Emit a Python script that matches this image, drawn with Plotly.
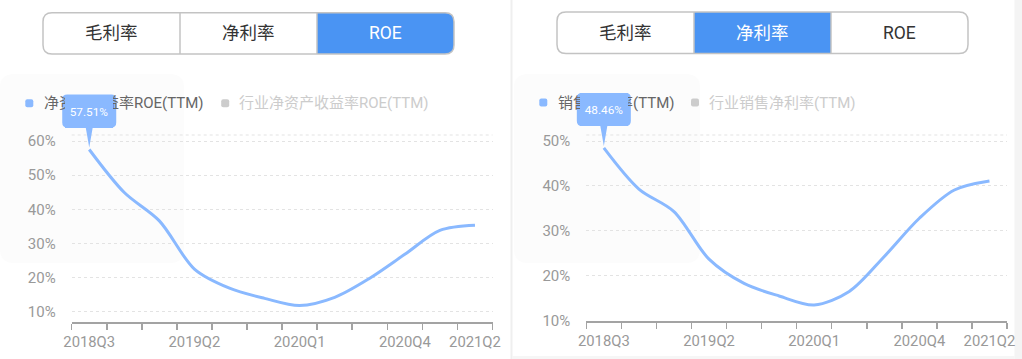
import plotly.graph_objects as go

W, H = 1022, 359

# ---------------- data ----------------
quarters = ['2018Q3', '2018Q4', '2019Q1', '2019Q2', '2019Q3', '2019Q4',
            '2020Q1', '2020Q2', '2020Q3', '2020Q4', '2021Q1', '2021Q2']
shown_labels = ['2018Q3', '2019Q2', '2020Q1', '2020Q4', '2021Q2']
roe_ttm = [57.51, 44.9, 36.6, 22.5, 16.9, 13.9, 11.8, 14.2, 19.8, 26.8, 33.8, 35.3]
net_margin_ttm = [48.46, 39.3, 34.3, 23.7, 18.3, 15.5, 13.5, 16.5, 24.3, 32.8, 39.1, 41.1]
left_yticks = [10, 20, 30, 40, 50, 60]
right_yticks = [10, 20, 30, 40, 50]
tabs = ['毛利率', '净利率', 'ROE']
left_legend = ['净资产收益率ROE(TTM)', '行业净资产收益率ROE(TTM)']
right_legend = ['销售净利率(TTM)', '行业销售净利率(TTM)']

# ---------------- style ----------------
FONT = "Roboto, 'Noto Sans CJK SC', sans-serif"
LINE = '#8ab9ff'
BLUE = '#4a94f3'
GRID = '#e3e3e3'
AXIS = '#a3a3a3'
LABEL = '#999999'

# panel geometry (pixels)
LEFT = dict(x0=71.7, x1=492.5, yb=322.0, yt=135.0, r=(6.98, 61.76))
RIGHT = dict(x0=586.3, x1=1007.0, yb=321.0, yt=135.0, r=(9.93, 51.34))


def px(x):
    return x / W


def py(y):
    return 1 - y / H


def data_to_px(panel, i, v):
    n = len(quarters)
    x = panel['x0'] + (i + 0.5) * (panel['x1'] - panel['x0']) / n
    r0, r1 = panel['r']
    y = panel['yb'] - (v - r0) / (r1 - r0) * (panel['yb'] - panel['yt'])
    return x, y


def rr_path(x0, y0, x1, y1, r, corners=(True, True, True, True)):
    tl, tr, br, bl = corners
    rtl = r if tl else 0
    rtr = r if tr else 0
    rbr = r if br else 0
    rbl = r if bl else 0
    s = f"M {px(x0 + rtl)} {py(y0)} L {px(x1 - rtr)} {py(y0)} "
    if rtr:
        s += f"Q {px(x1)} {py(y0)} {px(x1)} {py(y0 + rtr)} "
    s += f"L {px(x1)} {py(y1 - rbr)} "
    if rbr:
        s += f"Q {px(x1)} {py(y1)} {px(x1 - rbr)} {py(y1)} "
    s += f"L {px(x0 + rbl)} {py(y1)} "
    if rbl:
        s += f"Q {px(x0)} {py(y1)} {px(x0)} {py(y1 - rbl)} "
    s += f"L {px(x0)} {py(y0 + rtl)} "
    if rtl:
        s += f"Q {px(x0)} {py(y0)} {px(x0 + rtl)} {py(y0)} "
    s += "Z"
    return s


fig = go.Figure()

fig.add_trace(go.Scatter(x=quarters, y=roe_ttm, mode='lines',
                         line=dict(color=LINE, width=3, shape='spline', smoothing=0.9),
                         xaxis='x', yaxis='y', hoverinfo='skip', showlegend=False))
fig.add_trace(go.Scatter(x=quarters, y=net_margin_ttm, mode='lines',
                         line=dict(color=LINE, width=3, shape='spline', smoothing=0.9),
                         xaxis='x2', yaxis='y2', hoverinfo='skip', showlegend=False))

ticktext = [q if q in shown_labels else '' for q in quarters]

xaxis_common = dict(type='category', tickmode='array', tickvals=quarters, ticktext=ticktext,
                    range=[-0.5, len(quarters) - 0.5], automargin=False,
                    tickson='boundaries', ticks='outside', ticklen=6, tickwidth=1.5,
                    tickcolor=AXIS, showline=True, linecolor=AXIS, linewidth=1.5,
                    ticklabelstandoff=6,
                    showgrid=False, zeroline=False, tickangle=0, fixedrange=True,
                    tickfont=dict(family=FONT, size=14.8, color=LABEL))
yaxis_common = dict(tickmode='array', ticks='outside', ticklen=12, automargin=False,
                    tickcolor='rgba(0,0,0,0)', showline=False, zeroline=False,
                    showgrid=True, gridcolor=GRID, gridwidth=1, griddash='3px,3px',
                    fixedrange=True, tickfont=dict(family=FONT, size=15, color=LABEL))

fig.update_layout(
    template='none',
    width=W, height=H, autosize=False,
    margin=dict(l=0, r=0, t=0, b=0, pad=0, autoexpand=False),
    paper_bgcolor='white', plot_bgcolor='rgba(0,0,0,0)',
    showlegend=False,
    xaxis=dict(domain=[px(LEFT['x0']), px(LEFT['x1'])], anchor='y', **xaxis_common),
    yaxis=dict(domain=[py(LEFT['yb']), py(LEFT['yt'])], anchor='x', range=list(LEFT['r']),
               tickvals=left_yticks, ticktext=[f"{v}%" for v in left_yticks], **yaxis_common),
    xaxis2=dict(domain=[px(RIGHT['x0']), px(RIGHT['x1'])], anchor='y2', **xaxis_common),
    yaxis2=dict(domain=[py(RIGHT['yb']), py(RIGHT['yt'])], anchor='x2', range=list(RIGHT['r']),
                tickvals=right_yticks, ticktext=[f"{v}%" for v in right_yticks], **yaxis_common),
)

shapes = []
annotations = []

# background bits
shapes.append(dict(type='rect', xref='paper', yref='paper', x0=px(510.5), x1=px(512.5),
                   y0=0, y1=1, fillcolor='#efefef', line_width=0, layer='below'))
shapes.append(dict(type='rect', xref='paper', yref='paper', x0=px(1014.5), x1=1,
                   y0=0, y1=1, fillcolor='#f4f4f4', line_width=0, layer='below'))
shapes.append(dict(type='rect', xref='paper', yref='paper', x0=px(512.5), x1=px(1014.5),
                   y0=0, y1=py(356), fillcolor='#f6f6f6', line_width=0, layer='below'))
for (a, b) in [(0, 184), (514, 700)]:
    shapes.append(dict(type='path', xref='paper', yref='paper',
                       path=rr_path(a, 74, b, 263, 14), fillcolor='#fcfcfc',
                       line_width=0, layer='below'))

# top dashed grid border lines
for p in (LEFT, RIGHT):
    shapes.append(dict(type='line', xref='paper', yref='paper', x0=px(p['x0']), x1=px(p['x1']),
                       y0=py(p['yt']), y1=py(p['yt']),
                       line=dict(color=GRID, width=1, dash='3px,3px'), layer='below'))


# tab buttons
def tab_group(x0, x1, y0, y1, selected):
    seg = (x1 - x0) / 3
    r = 9
    shapes.append(dict(type='path', xref='paper', yref='paper',
                       path=rr_path(x0, y0, x1, y1, r), fillcolor='white',
                       line=dict(width=0)))
    sx0 = x0 + seg * selected
    sx1 = sx0 + seg
    corners = (selected == 0, selected == 2, selected == 2, selected == 0)
    shapes.append(dict(type='path', xref='paper', yref='paper',
                       path=rr_path(sx0, y0, sx1, y1, r, corners), fillcolor=BLUE,
                       line=dict(width=0)))
    shapes.append(dict(type='path', xref='paper', yref='paper',
                       path=rr_path(x0, y0, x1, y1, r), fillcolor='rgba(0,0,0,0)',
                       line=dict(color='#c3c3c3', width=1.5)))
    for k in (1, 2):
        xx = x0 + seg * k
        shapes.append(dict(type='line', xref='paper', yref='paper', x0=px(xx), x1=px(xx),
                           y0=py(y0), y1=py(y1), line=dict(color='#c3c3c3', width=1.5)))
    for k, t in enumerate(tabs):
        annotations.append(dict(xref='paper', yref='paper', x=px(x0 + seg * (k + 0.5)),
                                y=py((y0 + y1) / 2), text=t, showarrow=False,
                                xanchor='center', yanchor='middle',
                                font=dict(family=FONT, size=17.5,
                                          color='white' if k == selected else '#333333')))


tab_group(43, 454, 12.7, 54, 2)
tab_group(557, 968, 12, 53.5, 1)


# legends
def legend(items, mx, ty, tx):
    cols = [LINE, '#cccccc']
    tcols = ['#666666', '#cccccc']
    for (m, t, txt, c, tc) in zip(mx, tx, items, cols, tcols):
        shapes.append(dict(type='path', xref='paper', yref='paper',
                           path=rr_path(m, ty - 4, m + 8, ty + 4, 2), fillcolor=c,
                           line_width=0))
        annotations.append(dict(xref='paper', yref='paper', x=px(t), y=py(ty), text=txt,
                                showarrow=False, xanchor='left', yanchor='middle',
                                font=dict(family=FONT, size=15, color=tc)))


legend(left_legend, [25.3, 221.2], 103.3, [42, 237])
legend(right_legend, [539.3, 691], 102.5, [556, 707])


# tooltip bubbles anchored to the first data point
def bubble(panel, values):
    x, y = data_to_px(panel, 0, values[0])
    top, bot, hw, r = y - 55, y - 22, 27, 5
    path = (f"M {px(x - hw + r)} {py(top)} L {px(x + hw - r)} {py(top)} "
            f"Q {px(x + hw)} {py(top)} {px(x + hw)} {py(top + r)} "
            f"L {px(x + hw)} {py(bot - r)} Q {px(x + hw)} {py(bot)} {px(x + hw - r)} {py(bot)} "
            f"L {px(x + 3.5)} {py(bot)} L {px(x)} {py(y - 2)} L {px(x - 3.5)} {py(bot)} "
            f"L {px(x - hw + r)} {py(bot)} Q {px(x - hw)} {py(bot)} {px(x - hw)} {py(bot - r)} "
            f"L {px(x - hw)} {py(top + r)} Q {px(x - hw)} {py(top)} {px(x - hw + r)} {py(top)} Z")
    shapes.append(dict(type='path', xref='paper', yref='paper', path=path,
                       fillcolor=LINE, line_width=0, layer='above'))
    annotations.append(dict(xref='paper', yref='paper', x=px(x), y=py((top + bot) / 2),
                            text=f"{values[0]:.2f}%", showarrow=False, xanchor='center',
                            yanchor='middle', width=48, height=bot - top, bgcolor=LINE,
                            borderpad=0, borderwidth=0,
                            font=dict(family=FONT, size=11.8, color='white')))


bubble(LEFT, roe_ttm)
bubble(RIGHT, net_margin_ttm)

fig.update_layout(shapes=shapes, annotations=annotations)
fig.write_html("out.html", config={'displayModeBar': False, 'staticPlot': True},
               post_script="document.body.style.margin='0';"
                           "document.body.style.overflow='hidden';"
                           "document.documentElement.style.overflow='hidden';")
